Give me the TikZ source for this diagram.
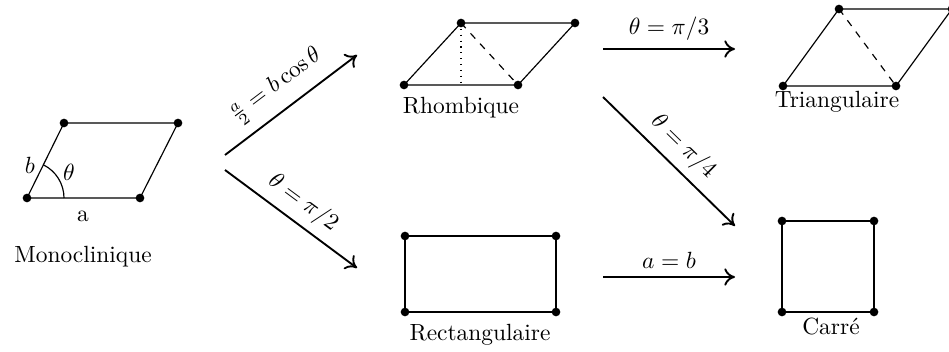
\documentclass[tikz,border=0pt]{standalone}
\usepackage{tikz}
\usetikzlibrary{arrows.meta, positioning}

\begin{document}
\begin{tikzpicture}[
  x = 0.015cm, y = 0.015cm,
  every node/.style = {font=\normalsize},
  site/.style = {circle, fill, inner sep=0pt, minimum size=1.3mm},
  cell/.style = {line width=0.5pt},
  caption/.style = {anchor=base, inner sep=1pt},
  flow/.style = {-{To[length=1.6mm, width=2.6mm]}, line width=0.8pt}
]
\useasboundingbox (0,0) rectangle (949,352);

% Monoclinique
\node[site] (m1) at (27,154) {};
\node[site] (m2) at (140,154) {};
\node[site] (m3) at (178,229) {};
\node[site] (m4) at (64,229) {};
\draw[cell] (m1.center) -- (m2.center) -- (m3.center) -- (m4.center) -- cycle;
\draw[cell] ([shift={(37,0)}]m1.center) arc[start angle=0, end angle=63.7, radius=37];
\node (b) at (30,187) {$b$};
\node (theta) at (69,180) {$\theta$};
\node[caption] (a) at (83,130) {a};
\node[caption] (mono) at (83,89) {Monoclinique};

% Rhombique
\node[site] (r1) at (404,267) {};
\node[site] (r2) at (518,267) {};
\node[site] (r3) at (575,329) {};
\node[site] (r4) at (461,329) {};
\coordinate (rfoot) at (461,267);
\draw[cell] (r1.center) -- (r2.center) -- (r3.center) -- (r4.center) -- cycle;
\draw[cell, dotted] (r4.center) -- (rfoot);
\draw[cell, dashed] (r4.center) -- (r2.center);
\node[caption] (rhombo) at (461,238) {Rhombique};

% Triangulaire
\node[site] (t1) at (783,266) {};
\node[site] (t2) at (896,266) {};
\node[site] (t3) at (952,343) {};
\node[site] (t4) at (839,343) {};
\draw[cell] (t1.center) -- (t2.center) -- (t3.center) -- (t4.center) -- cycle;
\draw[cell, dashed] (t4.center) -- (t2.center);
\node[caption] (trian) at (837,244) {Triangulaire};

% Rectangulaire
\node[site] (c1) at (405,40) {};
\node[site] (c2) at (556,40) {};
\node[site] (c3) at (556,116) {};
\node[site] (c4) at (405,116) {};
\draw[cell] (c1.center) -- (c2.center) -- (c3.center) -- (c4.center) -- cycle;
\node[caption] (rect) at (480,11) {Rectangulaire};

% Carre
\node[site] (s1) at (782,40) {};
\node[site] (s2) at (874,40) {};
\node[site] (s3) at (874,131) {};
\node[site] (s4) at (782,131) {};
\draw[cell] (s1.center) -- (s2.center) -- (s3.center) -- (s4.center) -- cycle;
\node[caption] (carre) at (831,17) {Carré};

% transitions
\coordinate (up0) at (225,197);   \coordinate (up1) at (357,297);
\coordinate (dn0) at (225,182);   \coordinate (dn1) at (357,84);
\coordinate (tr0) at (603,303);   \coordinate (tr1) at (735,303);
\coordinate (sq0) at (603,255);   \coordinate (sq1) at (735,126);
\coordinate (rs0) at (603,75);    \coordinate (rs1) at (735,75);

\draw[flow] (up0) -- node[midway, above=1pt, sloped] {$\frac{a}{2} = b\cos\theta$} (up1);
\draw[flow] (dn0) -- node[midway, above, sloped] {$\theta = \pi/2$} (dn1);
\draw[flow] (tr0) -- node[midway, above] {$\theta = \pi/3$} (tr1);
\draw[flow] (sq0) -- node[midway, above, sloped] {$\theta = \pi/4$} (sq1);
\draw[flow] (rs0) -- node[midway, above] {$a = b$} (rs1);

\end{tikzpicture}
\end{document}
